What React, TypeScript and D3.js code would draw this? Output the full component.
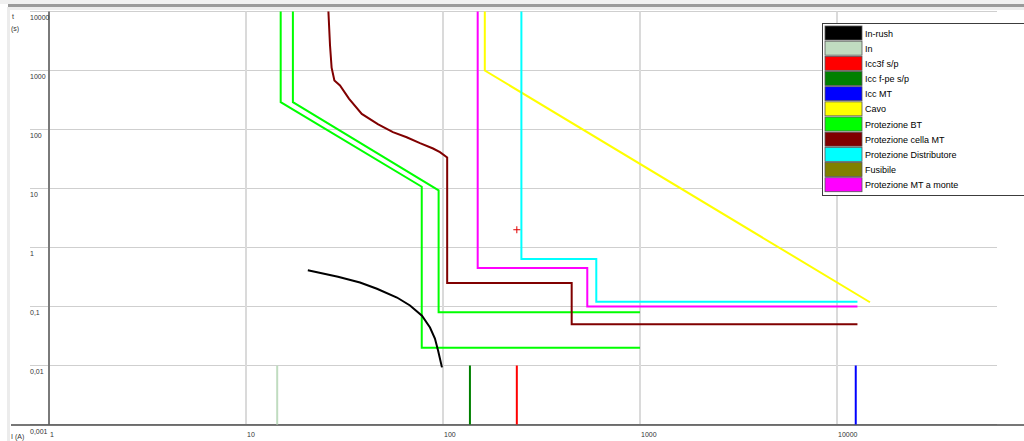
import React, { useEffect } from "react";
import * as d3 from "d3";

// Time-current coordination diagram (log I vs log t)

const W = 1024;
const H = 441;

const xTicks = [1, 10, 100, 1000, 10000];
const xTickLabels = ["1", "10", "100", "1000", "10000"];
const yTicks = [10000, 1000, 100, 10, 1, 0.1, 0.01, 0.001];
const yTickLabels = ["10000", "1000", "100", "10", "1", "0,1", "0,01", "0,001"];

// In-rush transformer curve
const inrushI = [20.6, 29.3, 37.9, 46.2, 58.4, 68, 78.2, 85.9, 91, 94.4, 98.8];
const inrushT = [0.41, 0.32, 0.255, 0.2, 0.142, 0.104, 0.07, 0.044, 0.0287, 0.018, 0.0093];

// Current markers (A)
const inCurrent = 14.4;
const icc3f = 237;
const iccFpe = 137;
const iccMT = 12450;

// Cable withstand (I²t)
const cavoI = [163, 163, 14700];
const cavoT = [10000, 1000, 0.118];

// LV protections
const bt1I = [15, 15, 78, 78, 1000];
const bt1T = [10000, 290, 10.7, 0.02, 0.02];
const bt2I = [17.3, 17.3, 95, 95, 1000];
const bt2T = [10000, 290, 9.3, 0.08, 0.08];

// MV cell protection
const cellaI = [26.2, 26.7, 27.2, 28.1, 30, 33.3, 38.7, 46.9, 55.7, 65.4, 76.4, 89, 96.5, 105, 105, 450, 450, 12700];
const cellaT = [10000, 2650, 1120, 677, 557, 335, 184, 122, 90, 74, 58.6, 47.6, 41.2, 33.5, 0.25, 0.25, 0.05, 0.05];

// Distributor protection
const distI = [250, 250, 600, 600, 12700];
const distT = [10000, 0.64, 0.64, 0.12, 0.12];

// Upstream MV protection
const monteI = [150, 150, 540, 540, 12700];
const monteT = [10000, 0.45, 0.45, 0.1, 0.1];

// Cursor point
const cursorI = 237;
const cursorT = 2;

const legendNames = [
  "In-rush",
  "In",
  "Icc3f s/p",
  "Icc f-pe s/p",
  "Icc MT",
  "Cavo",
  "Protezione BT",
  "Protezione cella MT",
  "Protezione Distributore",
  "Fusibile",
  "Protezione MT a monte",
];
const legendColors = [
  "#000000",
  "#c0dcc0",
  "#ff0000",
  "#008000",
  "#0000ff",
  "#ffff00",
  "#00ff00",
  "#800000",
  "#00ffff",
  "#808000",
  "#ff00ff",
];

const x = d3.scaleLog().domain([1, 10000]).range([49, 837]);
const y = d3.scaleLog().domain([0.001, 10000]).range([424.5, 11.5]);

const lineGen = d3
  .line<[number, number]>()
  .x((d) => x(d[0]))
  .y((d) => y(d[1]));

function path(I: number[], T: number[]) {
  return lineGen(I.map((v, i) => [v, T[i]] as [number, number])) || "";
}

const FONT = "'Liberation Sans', Arial, sans-serif";

export default function App() {
  useEffect(() => {
    document.body.style.margin = "0";
  }, []);

  const xRight = 997;
  const markers = [
    { I: inCurrent, c: "#c0dcc0" },
    { I: iccFpe, c: "#008000" },
    { I: icc3f, c: "#ff0000" },
    { I: iccMT, c: "#0000ff" },
  ];

  const curves = [
    { I: cavoI, T: cavoT, c: "#ffff00" },
    { I: bt1I, T: bt1T, c: "#00ff00" },
    { I: bt2I, T: bt2T, c: "#00ff00" },
    { I: monteI, T: monteT, c: "#ff00ff" },
    { I: distI, T: distT, c: "#00ffff" },
    { I: cellaI, T: cellaT, c: "#800000" },
    { I: inrushI, T: inrushT, c: "#000000" },
  ];

  const rowH = 15.17;

  return (
    <svg width={W} height={H} style={{ display: "block" }} xmlns="http://www.w3.org/2000/svg">
      <rect x={0} y={0} width={W} height={H} fill="#ffffff" />
      {/* window frame */}
      <rect x={0} y={0} width={W} height={4} fill="#f0f0f0" />
      <rect x={8} y={4} width={W - 8} height={3} fill="#9a9a9a" />
      <rect x={8} y={7} width={W - 8} height={3} fill="#ececec" />
      <rect x={7} y={7} width={3} height={H - 7} fill="#ececec" />

      {/* horizontal grid */}
      {yTicks.map((t) => (
        <line key={"h" + t} x1={30} x2={xRight} y1={y(t)} y2={y(t)} stroke="#cfcfcf" strokeWidth={1.2} />
      ))}
      {/* vertical grid */}
      {xTicks.slice(1).map((v) => (
        <line key={"v" + v} x1={x(v)} x2={x(v)} y1={y(10000)} y2={y(0.001)} stroke="#dadada" strokeWidth={2} />
      ))}

      {/* axes */}
      <line x1={x(1)} x2={x(1)} y1={y(10000)} y2={y(0.001)} stroke="#7a7a7a" strokeWidth={2} />
      <line x1={11} x2={W} y1={425} y2={425} stroke="#4a4a4a" strokeWidth={1.5} />

      {/* tick labels */}
      {yTicks.slice(0, 7).map((t, i) => (
        <text key={"yl" + t} x={30} y={y(t) + 6} fontSize={7} fontFamily={FONT} fill="#333" dominantBaseline="central">
          {yTickLabels[i]}
        </text>
      ))}
      <text x={30} y={431} fontSize={7} fontFamily={FONT} fill="#333" dominantBaseline="central">
        {yTickLabels[7]}
      </text>
      {xTicks.map((v, i) => (
        <text key={"xl" + v} x={x(v) + 1} y={434} fontSize={7} fontFamily={FONT} fill="#333" dominantBaseline="central">
          {xTickLabels[i]}
        </text>
      ))}
      <text x={12} y={16} fontSize={7} fontFamily={FONT} fill="#333" dominantBaseline="central">t</text>
      <text x={11} y={28} fontSize={7} fontFamily={FONT} fill="#333" dominantBaseline="central">(s)</text>
      <text x={11} y={436} fontSize={7} fontFamily={FONT} fill="#333" dominantBaseline="central">I (A)</text>

      {/* short-circuit / rated current markers */}
      {markers.map((m, i) => (
        <line key={"m" + i} x1={x(m.I)} x2={x(m.I)} y1={y(0.01)} y2={y(0.001)} stroke={m.c} strokeWidth={2} />
      ))}

      {/* curves */}
      {curves.map((c, i) => (
        <path key={"c" + i} d={path(c.I, c.T)} fill="none" stroke={c.c} strokeWidth={2} strokeLinejoin="miter" />
      ))}

      {/* cursor */}
      <g stroke="#e00000" strokeWidth={1}>
        <line x1={x(cursorI) - 3.5} x2={x(cursorI) + 3.5} y1={y(cursorT)} y2={y(cursorT)} />
        <line x1={x(cursorI)} x2={x(cursorI)} y1={y(cursorT) - 3.5} y2={y(cursorT) + 3.5} />
      </g>

      {/* legend */}
      <rect x={822.5} y={23.5} width={220} height={172} fill="#ffffff" stroke="#3c3c3c" strokeWidth={1} />
      {legendNames.map((n, i) => (
        <g key={"lg" + i}>
          <rect x={825} y={26 + i * rowH} width={37} height={14} fill={legendColors[i]} stroke="#555" strokeWidth={0.8} />
          <text x={865} y={26 + i * rowH + 7.5} fontSize={9} fontFamily={FONT} fill="#000" dominantBaseline="central">
            {n}
          </text>
        </g>
      ))}
    </svg>
  );
}
